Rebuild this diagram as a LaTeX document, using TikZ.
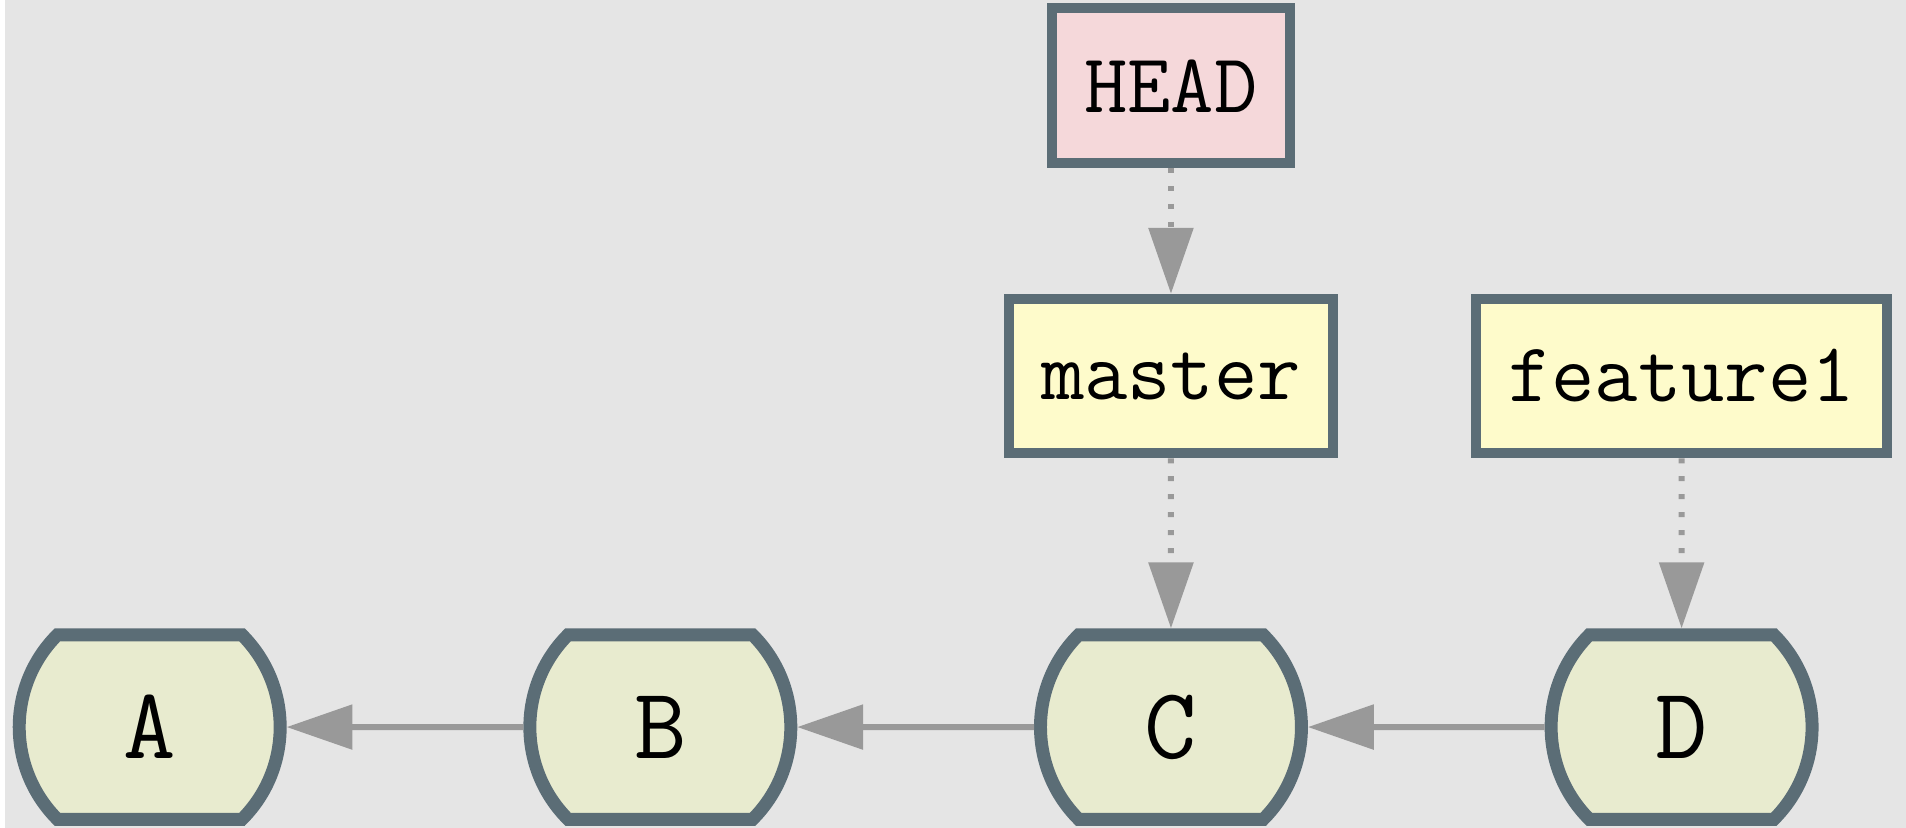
\documentclass[tikz,border=0pt]{standalone}
\usepackage{fontspec}
\usepackage{tikz}
\usetikzlibrary{shapes.misc, arrows.meta}
\definecolor{bg}{HTML}{E5E5E5}
\definecolor{rim}{HTML}{5B6D76}
\definecolor{commitfill}{HTML}{E8EBCF}
\definecolor{branchfill}{HTML}{FEFBCB}
\definecolor{headfill}{HTML}{F5D8DA}
\definecolor{link}{HTML}{999999}

\begin{document}
\begin{tikzpicture}

\tikzset{commit/.style = {shape=rounded rectangle, rounded rectangle arc length=90, draw=rim, fill=commitfill, line width=0.13cm, minimum width=2.6cm, minimum height=1.85cm, font=\fontsize{29}{33}\selectfont\ttfamily}}
\tikzset{ref/.style = {shape=rectangle, draw=rim, line width=0.1cm, minimum height=1.55cm, inner xsep=0.32cm, font=\fontsize{24}{28}\selectfont\ttfamily}}
\tikzset{parent/.style = {-{Triangle[length=0.66cm, width=0.44cm]}, draw=link, line width=0.06cm}}
\tikzset{pointer/.style = {parent, dash pattern=on 0.05cm off 0.13cm}}
\fill[bg] (0,0) rectangle (19.06,8.30);
%commits
\node[commit] (A) at (1.45,1.01) {A};
\node[commit] (B) at (6.57,1.01) {B};
\node[commit] (C) at (11.69,1.01) {C};
\node[commit] (D) at (16.81,1.01) {D};
%refs
\node[ref, fill=branchfill] (master) at (11.69,4.53) {master};
\node[ref, fill=branchfill] (feature1) at (16.81,4.53) {feature1};
\node[ref, fill=headfill] (head) at (11.69,7.44) {HEAD};
%edges
\draw [parent] (B) -- (A);
\draw [parent] (C) -- (B);
\draw [parent] (D) -- (C);
\draw [pointer] (head) -- (master);
\draw [pointer] (master) -- (C);
\draw [pointer] (feature1) -- (D);

\end{tikzpicture}
\end{document}
